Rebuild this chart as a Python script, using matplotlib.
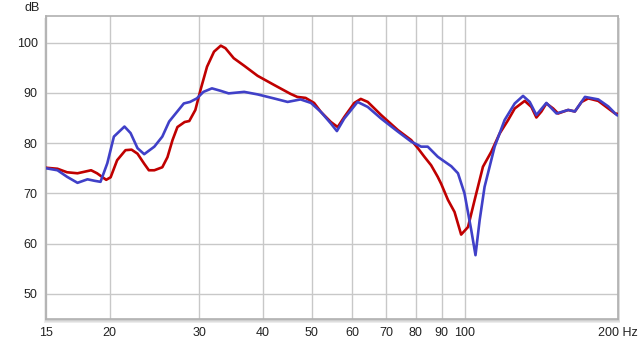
import numpy as np
import matplotlib
matplotlib.use("Agg")
import matplotlib.pyplot as plt
from matplotlib.patches import Rectangle

plt.rcParams['font.family'] = ['Liberation Sans', 'DejaVu Sans']

# frequency response (Hz, dB)
red_hz = [15.0, 15.8, 16.5, 17.3, 18.4, 18.9, 19.7, 20.1, 20.7, 21.5, 22.1, 22.7, 23.4, 23.9,
          24.5, 25.4, 26.0, 26.6, 27.2, 28.1, 28.7, 29.5, 30.2, 31.1, 32.1, 33.1, 33.8, 35.1,
          36.8, 39.1, 42.1, 45.4, 46.8, 48.6, 50.5, 52.1, 54.5, 56.2, 57.9, 60.6, 62.4, 64.4,
          68.4, 73.8, 78.4, 80.8, 83.2, 85.8, 88.4, 89.8, 92.6, 95.4, 98.3, 101.4, 104.5, 108.5,
          112.7, 117.0, 121.6, 125.3, 131.1, 135.1, 138.2, 141.4, 144.6, 149.1, 152.5, 159.6,
          164.5, 169.6, 174.8, 182.9, 191.4, 197.3, 200.0]
red_db = [75.1, 74.9, 74.2, 74.0, 74.6, 74.0, 72.7, 73.2, 76.6, 78.6, 78.7, 77.9, 75.9, 74.6,
          74.6, 75.2, 77.2, 80.6, 83.2, 84.2, 84.4, 86.6, 90.6, 95.2, 98.2, 99.4, 98.9, 96.9,
          95.4, 93.4, 91.6, 89.8, 89.2, 89.0, 88.0, 86.2, 84.2, 83.2, 85.2, 88.0, 88.8, 88.2,
          85.6, 82.6, 80.6, 79.0, 77.3, 75.6, 73.3, 71.9, 68.7, 66.3, 61.8, 63.3, 68.7, 75.3,
          78.3, 81.9, 84.6, 86.9, 88.4, 87.2, 85.1, 86.3, 87.9, 86.9, 85.9, 86.6,
          86.3, 88.2, 88.9, 88.4, 86.9, 85.9, 85.8]

blue_hz = [15.0, 15.8, 16.5, 17.3, 18.1, 18.7, 19.2, 19.8, 20.4, 21.4, 22.0, 22.7, 23.4, 24.5,
           25.4, 26.2, 28.0, 28.8, 29.7, 30.6, 31.8, 33.1, 34.3, 36.8, 39.1, 42.1, 44.8, 47.5,
           49.8, 52.1, 54.5, 56.0, 57.9, 61.5, 64.4, 68.4, 73.8, 78.4, 82.0, 84.5, 88.4, 89.8,
           94.0, 96.9, 99.8, 102.9, 104.9, 106.9, 109.3, 114.4, 119.7, 125.3, 130.1, 134.1,
           138.2, 144.6, 151.4, 159.6, 164.5, 172.2, 182.9, 191.4, 198.8, 200.0]
blue_db = [75.0, 74.6, 73.3, 72.1, 72.8, 72.5, 72.3, 76.0, 81.3, 83.3, 82.0, 79.0, 77.8, 79.3,
           81.3, 84.3, 87.9, 88.2, 88.9, 90.2, 90.9, 90.4, 89.9, 90.2, 89.7, 88.9, 88.2, 88.7,
           88.0, 86.2, 83.9, 82.4, 84.9, 88.2, 87.2, 84.9, 82.3, 80.3, 79.3, 79.3, 77.3, 76.8,
           75.4, 74.0, 70.0, 62.7, 57.7, 64.7, 71.3, 79.3, 84.6, 87.9, 89.4, 88.2,
           85.6, 88.0, 85.9, 86.6, 86.3, 89.2, 88.7, 87.3, 85.6, 85.5]

x_ticks = [15, 20, 30, 40, 50, 60, 70, 80, 90, 100, 200]
x_labels = ['15', '20', '30', '40', '50', '60', '70', '80', '90', '100', '200 Hz']
y_ticks = [50, 60, 70, 80, 90, 100]

fig = plt.figure(figsize=(6.4, 3.44), dpi=100)
ax = fig.add_axes([46 / 640, 1 - 319 / 344, 572 / 640, 303 / 344])

# soft drop shadow behind the plot frame
for off, col in [(4, '#ececec'), (3, '#dedede'), (2, '#cfcfcf')]:
    fig.patches.append(Rectangle(((46 - off / 2) / 640, (25 - off) / 344),
                                 (572 + off) / 640, (303 + off / 2) / 344,
                                 transform=fig.transFigure, facecolor=col,
                                 edgecolor='none', zorder=-2))

ax.set_xscale('log')
ax.set_xlim(15, 200)
ax.set_ylim(45, 105.3)

ax.plot(red_hz, red_db, color='#c00000', lw=1.9, solid_joinstyle='round', zorder=3)
ax.plot(blue_hz, blue_db, color='#4040c8', lw=1.9, solid_joinstyle='round', zorder=4)

ax.set_xticks(x_ticks)
ax.set_xticklabels(x_labels)
ax.xaxis.set_minor_locator(matplotlib.ticker.NullLocator())
ax.set_yticks(y_ticks)
ax.grid(True, color='#c8c8c8', lw=1.0)
ax.set_axisbelow(True)
ax.tick_params(length=0, labelsize=9, labelcolor='#222222')
ax.tick_params(axis='y', pad=6)
ax.tick_params(axis='x', pad=6)
for s in ax.spines.values():
    s.set_color('#b0b0b0')
    s.set_linewidth(1.2)

fig.text(40 / 640, 1 - 8 / 344, 'dB', ha='right', va='center', fontsize=9, color='#222222')

fig.savefig('out.png', dpi=100)
